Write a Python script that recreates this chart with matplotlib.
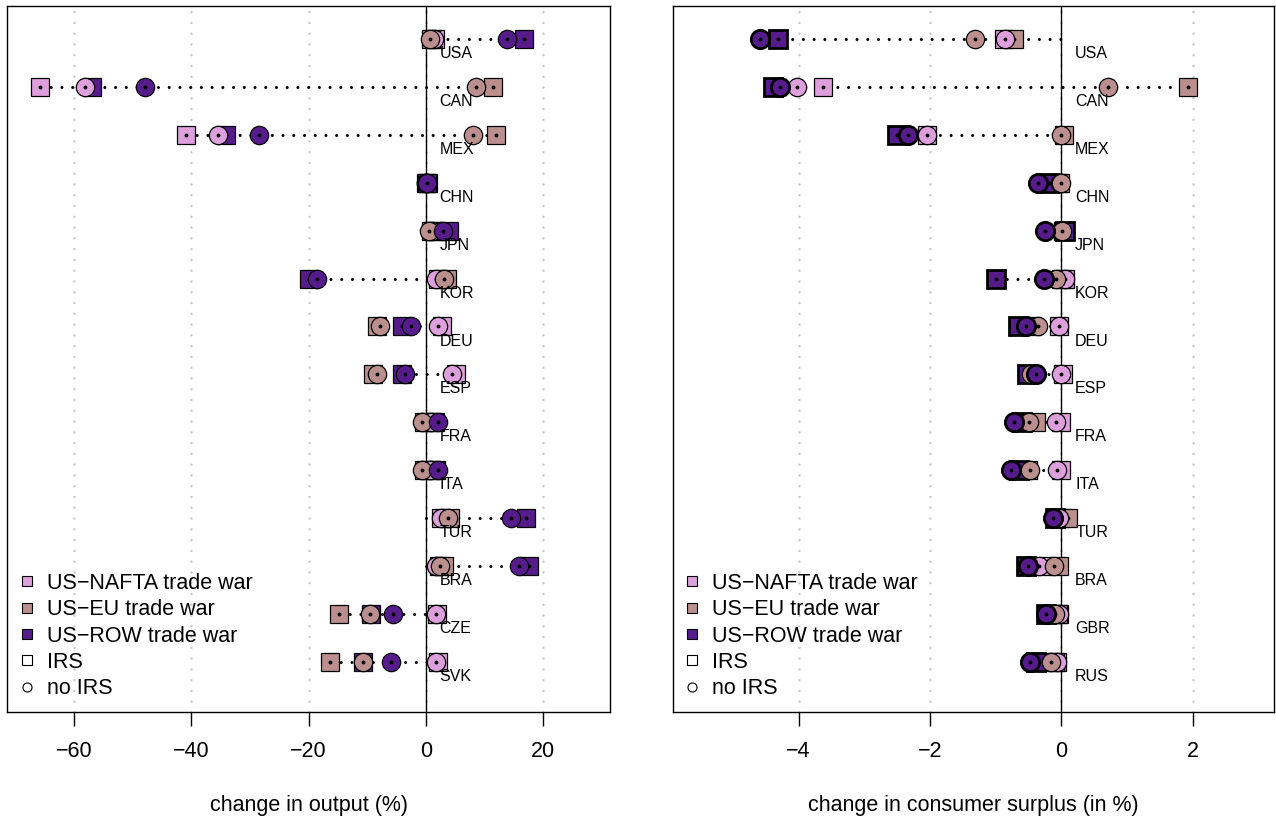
import matplotlib

matplotlib.use("Agg")
import matplotlib.pyplot as plt
from matplotlib.lines import Line2D

plt.rcParams["font.family"] = ["Liberation Sans", "DejaVu Sans"]

# scenario colours: US-NAFTA, US-EU, US-ROW
NAFTA_COL = "#DDA0DD"
EU_COL = "#BC8F8F"
ROW_COL = "#561C8C"

# ---- left panel: change in output (%) ----
out_countries = ["USA", "CAN", "MEX", "CHN", "JPN", "KOR", "DEU", "ESP", "FRA", "ITA", "TUR", "BRA", "CZE", "SVK"]
out_nafta_irs = [1.5, -65.8, -40.9, 0.1, 1.2, 2.1, 2.8, 5.2, 0.5, 0.6, 2.6, 2.3, 1.9, 2.1]
out_nafta_noirs = [1.4, -58.2, -35.4, 0.1, 1.0, 1.8, 2.1, 4.4, 0.9, 0.8, 2.6, 1.7, 1.7, 1.8]
out_eu_irs = [0.9, 11.5, 12.0, 0.4, 0.9, 3.6, -8.3, -9.0, -0.3, -0.3, 4.2, 3.1, -14.8, -16.4]
out_eu_noirs = [0.8, 8.5, 8.0, 0.1, 0.6, 3.1, -7.9, -8.4, -0.7, -0.6, 3.8, 2.5, -9.5, -10.7]
out_row_irs = [16.8, -56.9, -34.1, 0.2, 4.0, -19.9, -4.1, -4.0, 1.5, 1.8, 17.1, 17.6, -9.4, -10.7]
out_row_noirs = [13.8, -48.0, -28.4, 0.2, 3.0, -18.6, -2.6, -3.5, 2.1, 2.1, 14.6, 15.9, -5.6, -6.0]

# ---- right panel: change in consumer surplus (in %) ----
cs_countries = ["USA", "CAN", "MEX", "CHN", "JPN", "KOR", "DEU", "ESP", "FRA", "ITA", "TUR", "BRA", "GBR", "RUS"]
cs_nafta_irs = [-0.87, -3.63, -2.04, -0.05, 0.02, 0.05, -0.03, 0.02, 0.0, 0.0, 0.0, -0.30, -0.03, -0.07]
cs_nafta_noirs = [-0.85, -4.03, -2.04, -0.02, 0.0, 0.05, -0.03, 0.0, -0.08, -0.07, -0.03, -0.34, -0.03, -0.06]
cs_eu_irs = [-0.72, 1.93, 0.04, -0.02, 0.03, 0.0, -0.45, -0.45, -0.39, -0.50, 0.11, -0.03, -0.05, -0.10]
cs_eu_noirs = [-1.31, 0.71, -0.01, 0.0, 0.01, -0.08, -0.36, -0.46, -0.49, -0.48, -0.12, -0.11, -0.10, -0.16]
cs_row_irs = [-4.32, -4.39, -2.50, -0.18, 0.06, -1.0, -0.66, -0.52, -0.60, -0.65, -0.10, -0.54, -0.23, -0.39]
cs_row_noirs = [-4.58, -4.29, -2.34, -0.35, -0.24, -0.27, -0.53, -0.38, -0.72, -0.77, -0.13, -0.51, -0.23, -0.48]

legend_labels = ["US\u2212NAFTA trade war", "US\u2212EU trade war", "US\u2212ROW trade war", "IRS", "no IRS"]


def dot_panel(ax, countries, irs, noirs, xlim, xticks, xlabel, row_mew):
    """irs / noirs: lists of (values, colour) in drawing order NAFTA, EU, ROW."""
    rows = list(range(1, len(countries) + 1))

    # dotted connector from min(0, values) to max(0, values)
    for i, y in enumerate(rows):
        vals = [v[i] for v, _ in irs] + [v[i] for v, _ in noirs] + [0]
        ax.plot([min(vals), max(vals)], [y, y], color="black", lw=2.2,
                linestyle=(0, (0.01, 3.5)), dash_capstyle="round", zorder=2)

    ax.axvline(0, color="black", lw=1.0, zorder=1.5)

    z = 3
    for marker, series in (("s", irs), ("o", noirs)):
        for k, (vals, col) in enumerate(series):
            mew = row_mew if k == 2 else 0.9
            for x, y in zip(vals, rows):
                ax.plot(x, y, marker=marker, ms=13.2, mfc=col, mec="black", mew=mew, zorder=z)
                ax.plot(x, y, marker="o", ms=1.8, color="black", zorder=z + 0.01)
                z += 0.02

    for name, y in zip(countries, rows):
        ax.annotate(name, (0, y), xytext=(10, -10.5), textcoords="offset points",
                    ha="left", va="center", fontsize=11.5, zorder=20)

    ax.set_xlim(*xlim)
    ax.set_ylim(15.05, 0.31)
    ax.set_xticks(xticks)
    ax.set_xticklabels([f"{t:d}".replace("-", "\u2212") for t in xticks])
    ax.set_yticks([])
    ax.xaxis.grid(True, color="#C8C8C8", lw=1.8, linestyle=(0, (0.01, 4.3)), dash_capstyle="round")
    ax.set_axisbelow(True)
    ax.tick_params(axis="x", length=10, width=1, labelsize=15.5, pad=11)
    for sp in ax.spines.values():
        sp.set_linewidth(1.0)
    ax.set_xlabel(xlabel, fontsize=15.5, labelpad=24)

    handles = [Line2D([], [], ls="none", marker="s", ms=6.5, mfc=c, mec="black", mew=0.8)
               for c in (NAFTA_COL, EU_COL, ROW_COL)]
    handles.append(Line2D([], [], ls="none", marker="s", ms=6.5, mfc="white", mec="black", mew=0.8))
    handles.append(Line2D([], [], ls="none", marker="o", ms=6.5, mfc="white", mec="black", mew=0.8))
    ax.legend(handles, legend_labels, loc="lower left", bbox_to_anchor=(0.018, 0.018),
              frameon=False, fontsize=15.5, borderpad=0, borderaxespad=0,
              handlelength=0.8, handletextpad=0.53, labelspacing=0.25)


fig = plt.figure(figsize=(12.76, 8.19), dpi=100)
ax1 = fig.add_axes([7.3 / 1276, 107 / 819, 602.7 / 1276, 706 / 819])
ax2 = fig.add_axes([672.5 / 1276, 107 / 819, 601.5 / 1276, 706 / 819])

dot_panel(ax1, out_countries,
          [(out_nafta_irs, NAFTA_COL), (out_eu_irs, EU_COL), (out_row_irs, ROW_COL)],
          [(out_nafta_noirs, NAFTA_COL), (out_eu_noirs, EU_COL), (out_row_noirs, ROW_COL)],
          (-71.43, 31.44), [-60, -40, -20, 0, 20], "change in output (%)", 0.9)

dot_panel(ax2, cs_countries,
          [(cs_nafta_irs, NAFTA_COL), (cs_eu_irs, EU_COL), (cs_row_irs, ROW_COL)],
          [(cs_nafta_noirs, NAFTA_COL), (cs_eu_noirs, EU_COL), (cs_row_noirs, ROW_COL)],
          (-5.92, 3.24), [-4, -2, 0, 2], "change in consumer surplus (in %)", 2.0)

fig.savefig("out.png", dpi=100)
